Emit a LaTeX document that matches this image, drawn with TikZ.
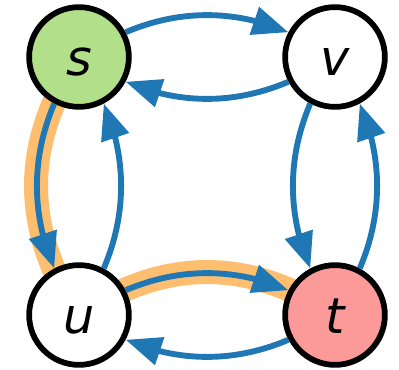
\documentclass[tikz,border=0pt]{standalone}
\usepackage{fontspec}
\newfontfamily\lbl{DejaVu Sans}
\usetikzlibrary{arrows.meta,bending,backgrounds}
\definecolor{eblue}{HTML}{1F77B4}
\definecolor{hlor}{HTML}{FDBF6F}
\definecolor{sgreen}{HTML}{B2DF8A}
\definecolor{tred}{HTML}{FB9A99}
\begin{document}
\begin{tikzpicture}[x=0.75pt,y=0.75pt,
  vtx/.style={circle,draw=black,line width=4.3pt,minimum size=74.8pt,inner sep=0pt,
    text height=27pt,text depth=0pt,font=\lbl\itshape\fontsize{37}{37}\selectfont},
  edge/.style={draw=eblue,line width=4.4pt,-{Triangle[length=27pt,width=21pt,flex]}},
  hl/.style={draw=hlor,line width=18pt}]
\useasboundingbox (0,0) rectangle (399,369);
\node[vtx,fill=sgreen] (s) at (79,312) {s};
\node[vtx,fill=white] (v) at (335,312) {v};
\node[vtx,fill=white] (u) at (79,54) {u};
\node[vtx,fill=tred] (t) at (335,54) {t};
\begin{scope}[on background layer]
  \draw[hl] (s.center) .. controls +(-57.3,-86) and +(-57.3,86) .. (u.center);
  \draw[hl] (u.center) .. controls +(85.3,57.3) and +(-85.3,57.3) .. (t.center);
\end{scope}
\draw[edge] (s.28) to[out=23,in=157,looseness=0.92] (v.152);
\draw[edge] (v.208) to[out=203,in=337,looseness=0.92] (s.332);
\draw[edge] (s.242) to[out=247,in=113,looseness=0.92] (u.118);
\draw[edge] (u.62) to[out=67,in=293,looseness=0.92] (s.298);
\draw[edge] (u.28) to[out=23,in=157,looseness=0.92] (t.152);
\draw[edge] (t.208) to[out=203,in=337,looseness=0.92] (u.332);
\draw[edge] (v.242) to[out=247,in=113,looseness=0.92] (t.118);
\draw[edge] (t.62) to[out=67,in=293,looseness=0.92] (v.298);
\end{tikzpicture}
\end{document}
